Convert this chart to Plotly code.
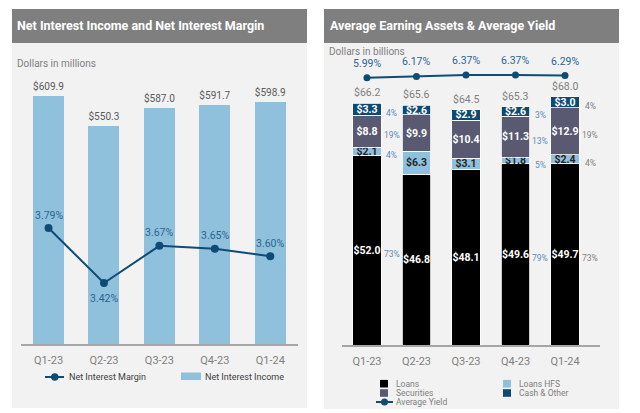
import plotly.graph_objects as go

# ---------------- data ----------------
quarters = ["Q1-23", "Q2-23", "Q3-23", "Q4-23", "Q1-24"]
net_interest_income = [609.9, 550.3, 587.0, 591.7, 598.9]
net_interest_margin = [3.79, 3.42, 3.67, 3.65, 3.60]

loans = [52.0, 46.8, 48.1, 49.6, 49.7]
loans_hfs = [2.1, 6.3, 3.1, 1.8, 2.4]
securities = [8.8, 9.9, 10.4, 11.3, 12.9]
cash_other = [3.3, 2.6, 2.9, 2.6, 3.0]
totals = [66.2, 65.6, 64.5, 65.3, 68.0]
average_yield = [5.99, 6.17, 6.37, 6.37, 6.29]

pct_loans = [73, None, None, 79, 73]
pct_hfs = [4, None, None, 5, 4]
pct_sec = [19, None, None, 13, 19]
pct_cash = [4, None, None, 3, 4]

left_title = "Net Interest Income and Net Interest Margin"
right_title = "Average Earning Assets & Average Yield"
left_unit = "Dollars in millions"
right_unit = "Dollars in billions"
left_names = ["Net Interest Margin", "Net Interest Income"]
right_names = ["Loans", "Loans HFS", "Securities", "Cash & Other", "Average Yield"]

# ---------------- styling ----------------
W, H = 640, 413
FONT = "Roboto"
HEADER = "#7f7f7f"
PANEL = "#f2f2f2"
GRAY_TXT = "#7f7f7f"
DARK_TXT = "#595959"
NAVY = "#0f4c75"
LBLUE = "#8fc1dd"
SEC = "#595a72"
CASH = "#0d4a73"
PCT_BLUE = "#5b8db8"
LINE_LBL = "#2a6592"


def X(px):
    return px / W


def Y(py):
    return 1 - py / H


fig = go.Figure()
annotations = []

# left panel
fig.add_trace(go.Bar(
    x=quarters, y=net_interest_income, xaxis="x", yaxis="y",
    marker=dict(color=LBLUE, line=dict(width=0)), width=0.56,
    text=[f"${v:.1f}" for v in net_interest_income], textposition="outside",
    textfont=dict(family=FONT, size=10.5, color=DARK_TXT), cliponaxis=False,
    showlegend=False, hoverinfo="skip"))
fig.add_trace(go.Scatter(
    x=quarters, y=net_interest_margin, xaxis="x", yaxis="y3",
    mode="lines+markers", line=dict(color=NAVY, width=2),
    marker=dict(color=NAVY, size=8), cliponaxis=False,
    showlegend=False, hoverinfo="skip"))
nim_shift = [13, -16, 13, 13, 13]
for q, v, s in zip(quarters, net_interest_margin, nim_shift):
    annotations.append(dict(x=q, y=v, xref="x", yref="y3", yshift=s, yanchor="middle",
                            text=f"{v:.2f}%", showarrow=False, borderpad=0,
                            font=dict(family=FONT, size=10.5, color=LINE_LBL)))

# right panel stacked bars
seg_series = [loans, loans_hfs, securities, cash_other]
seg_colors = ["#000000", LBLUE, SEC, CASH]
seg_txt = ["white", "#262626", "white", "white"]
for name, vals, col, tc in zip(right_names[:4], seg_series, seg_colors, seg_txt):
    fig.add_trace(go.Bar(
        x=quarters, y=vals, xaxis="x2", yaxis="y2", name=name,
        marker=dict(color=col, line=dict(color="white", width=0.8)), width=0.58,
        text=[f"${v:.1f}" for v in vals], textposition="inside",
        insidetextanchor="middle", textangle=0, constraintext="none",
        textfont=dict(family=FONT, size=10.5, color=tc, weight=700),
        cliponaxis=False, showlegend=False, hoverinfo="skip"))

for q, v in zip(quarters, totals):
    annotations.append(dict(x=q, y=v, xref="x2", yref="y2", yanchor="bottom", yshift=2,
                            text=f"${v:.1f}", showarrow=False,
                            font=dict(family=FONT, size=10.5, color=GRAY_TXT)))

fig.add_trace(go.Scatter(
    x=quarters, y=average_yield, xaxis="x2", yaxis="y4",
    mode="lines+markers", line=dict(color=NAVY, width=2),
    marker=dict(color=NAVY, size=7), cliponaxis=False,
    showlegend=False, hoverinfo="skip"))
for q, v in zip(quarters, average_yield):
    annotations.append(dict(x=q, y=v, xref="x2", yref="y4", yshift=14.5, yanchor="middle",
                            text=f"{v:.2f}%", showarrow=False, borderpad=0,
                            font=dict(family=FONT, size=10.5, color=LINE_LBL)))

# percentage annotations
pct_colors = [PCT_BLUE, None, None, PCT_BLUE, GRAY_TXT]
for i, q in enumerate(quarters):
    base = 0.0
    for vals, pcts in zip(seg_series, [pct_loans, pct_hfs, pct_sec, pct_cash]):
        center = base + vals[i] / 2
        base += vals[i]
        if pcts[i] is None:
            continue
        annotations.append(dict(
            x=q, y=center, xref="x2", yref="y2", xshift=25, yshift=-4,
            text=f"{pcts[i]}%", showarrow=False,
            font=dict(family=FONT, size=8.5, color=pct_colors[i])))

# titles & units
annotations += [
    dict(x=X(15), y=Y(26), xref="paper", yref="paper", xanchor="left", yanchor="middle",
         text=f"<b>{left_title}</b>", showarrow=False,
         font=dict(family=FONT, size=12.5, color="white")),
    dict(x=X(328), y=Y(26), xref="paper", yref="paper", xanchor="left", yanchor="middle",
         text=f"<b>{right_title}</b>", showarrow=False,
         font=dict(family=FONT, size=12.5, color="white")),
    dict(x=X(15), y=Y(63), xref="paper", yref="paper", xanchor="left", yanchor="middle",
         text=left_unit, showarrow=False, font=dict(family=FONT, size=10, color=GRAY_TXT)),
    dict(x=X(328), y=Y(52), xref="paper", yref="paper", xanchor="left", yanchor="middle",
         text=right_unit, showarrow=False, borderpad=0,
         font=dict(family=FONT, size=10, color=GRAY_TXT)),
]

shapes = [
    dict(type="rect", xref="paper", yref="paper", x0=X(12), x1=X(307), y0=Y(43), y1=Y(408),
         fillcolor=PANEL, line=dict(width=0), layer="below"),
    dict(type="rect", xref="paper", yref="paper", x0=X(12), x1=X(307), y0=Y(9), y1=Y(43),
         fillcolor=HEADER, line=dict(width=0), layer="below"),
    dict(type="rect", xref="paper", yref="paper", x0=X(324), x1=X(619), y0=Y(43), y1=Y(409),
         fillcolor=PANEL, line=dict(width=0), layer="below"),
    dict(type="rect", xref="paper", yref="paper", x0=X(324), x1=X(619), y0=Y(9), y1=Y(43),
         fillcolor=HEADER, line=dict(width=0), layer="below"),
]

LEG_FONT_L = dict(family=FONT, size=9, color="#404040")
LEG_FONT_R = dict(family=FONT, size=8.5, color=GRAY_TXT)

# left legend
shapes += [
    dict(type="line", xref="paper", yref="paper", x0=X(45), x1=X(64), y0=Y(377), y1=Y(377),
         line=dict(color=NAVY, width=2)),
    dict(type="circle", xref="paper", yref="paper", x0=X(51), x1=X(58.5), y0=Y(373.3), y1=Y(380.7),
         fillcolor=NAVY, line=dict(width=0)),
    dict(type="rect", xref="paper", yref="paper", x0=X(181), x1=X(201), y0=Y(372.5), y1=Y(380),
         fillcolor=LBLUE, line=dict(width=0)),
]
annotations += [
    dict(x=X(67), y=Y(376.5), xref="paper", yref="paper", xanchor="left", yanchor="middle",
         text=left_names[0], showarrow=False, font=LEG_FONT_L),
    dict(x=X(203), y=Y(376.5), xref="paper", yref="paper", xanchor="left", yanchor="middle",
         text=left_names[1], showarrow=False, font=LEG_FONT_L),
]

# right legend
sq = [(380, 383.7, seg_colors[0], right_names[0]), (503, 383.7, seg_colors[1], right_names[1]),
      (380, 393, seg_colors[2], right_names[2]), (503, 393, seg_colors[3], right_names[3])]
for x0, yc, col, name in sq:
    shapes.append(dict(type="rect", xref="paper", yref="paper", x0=X(x0), x1=X(x0 + 8),
                       y0=Y(yc - 3.8), y1=Y(yc + 3.8), fillcolor=col, line=dict(width=0)))
    annotations.append(dict(x=X(x0 + 15), y=Y(yc), xref="paper", yref="paper",
                            xanchor="left", yanchor="middle", text=name, showarrow=False,
                            font=LEG_FONT_R, borderpad=0))
shapes += [
    dict(type="line", xref="paper", yref="paper", x0=X(376), x1=X(393), y0=Y(402), y1=Y(402),
         line=dict(color=NAVY, width=2)),
    dict(type="circle", xref="paper", yref="paper", x0=X(381), x1=X(388), y0=Y(398.5), y1=Y(405.5),
         fillcolor=NAVY, line=dict(width=0)),
]
annotations.append(dict(x=X(395), y=Y(402), xref="paper", yref="paper", xanchor="left",
                        yanchor="middle", text=right_names[4], showarrow=False, font=LEG_FONT_R,
                        borderpad=0))

xax = dict(type="category", showgrid=False, zeroline=False, showline=True,
           linecolor="#a6a6a6", linewidth=1.5, ticks="", ticklabelstandoff=5,
           tickfont=dict(family=FONT, size=11, color=GRAY_TXT), fixedrange=True)
yax = dict(visible=False, showgrid=False, zeroline=False, fixedrange=True)

fig.update_layout(
    width=W, height=H, margin=dict(l=0, r=0, t=0, b=0),
    paper_bgcolor="white", plot_bgcolor="rgba(0,0,0,0)",
    barmode="stack", showlegend=False,
    xaxis=dict(xax, domain=[X(20.8), X(298)], anchor="y"),
    yaxis=dict(yax, domain=[Y(344), Y(60)], range=[117.2, 681.4]),
    yaxis3=dict(yax, domain=[Y(344), Y(60)], range=[3.0094, 4.9206], overlaying="y"),
    xaxis2=dict(xax, domain=[X(342.2), X(600)], anchor="y2"),
    yaxis2=dict(yax, domain=[Y(345), Y(60)], range=[0, 78.06]),
    yaxis4=dict(yax, domain=[Y(345), Y(60)], range=[-31.66, 8.483], overlaying="y2"),
    shapes=shapes, annotations=annotations,
)

fig.write_html("out.html", config={"displayModeBar": False},
               post_script="document.body.style.margin='0';document.body.style.padding='0';")
